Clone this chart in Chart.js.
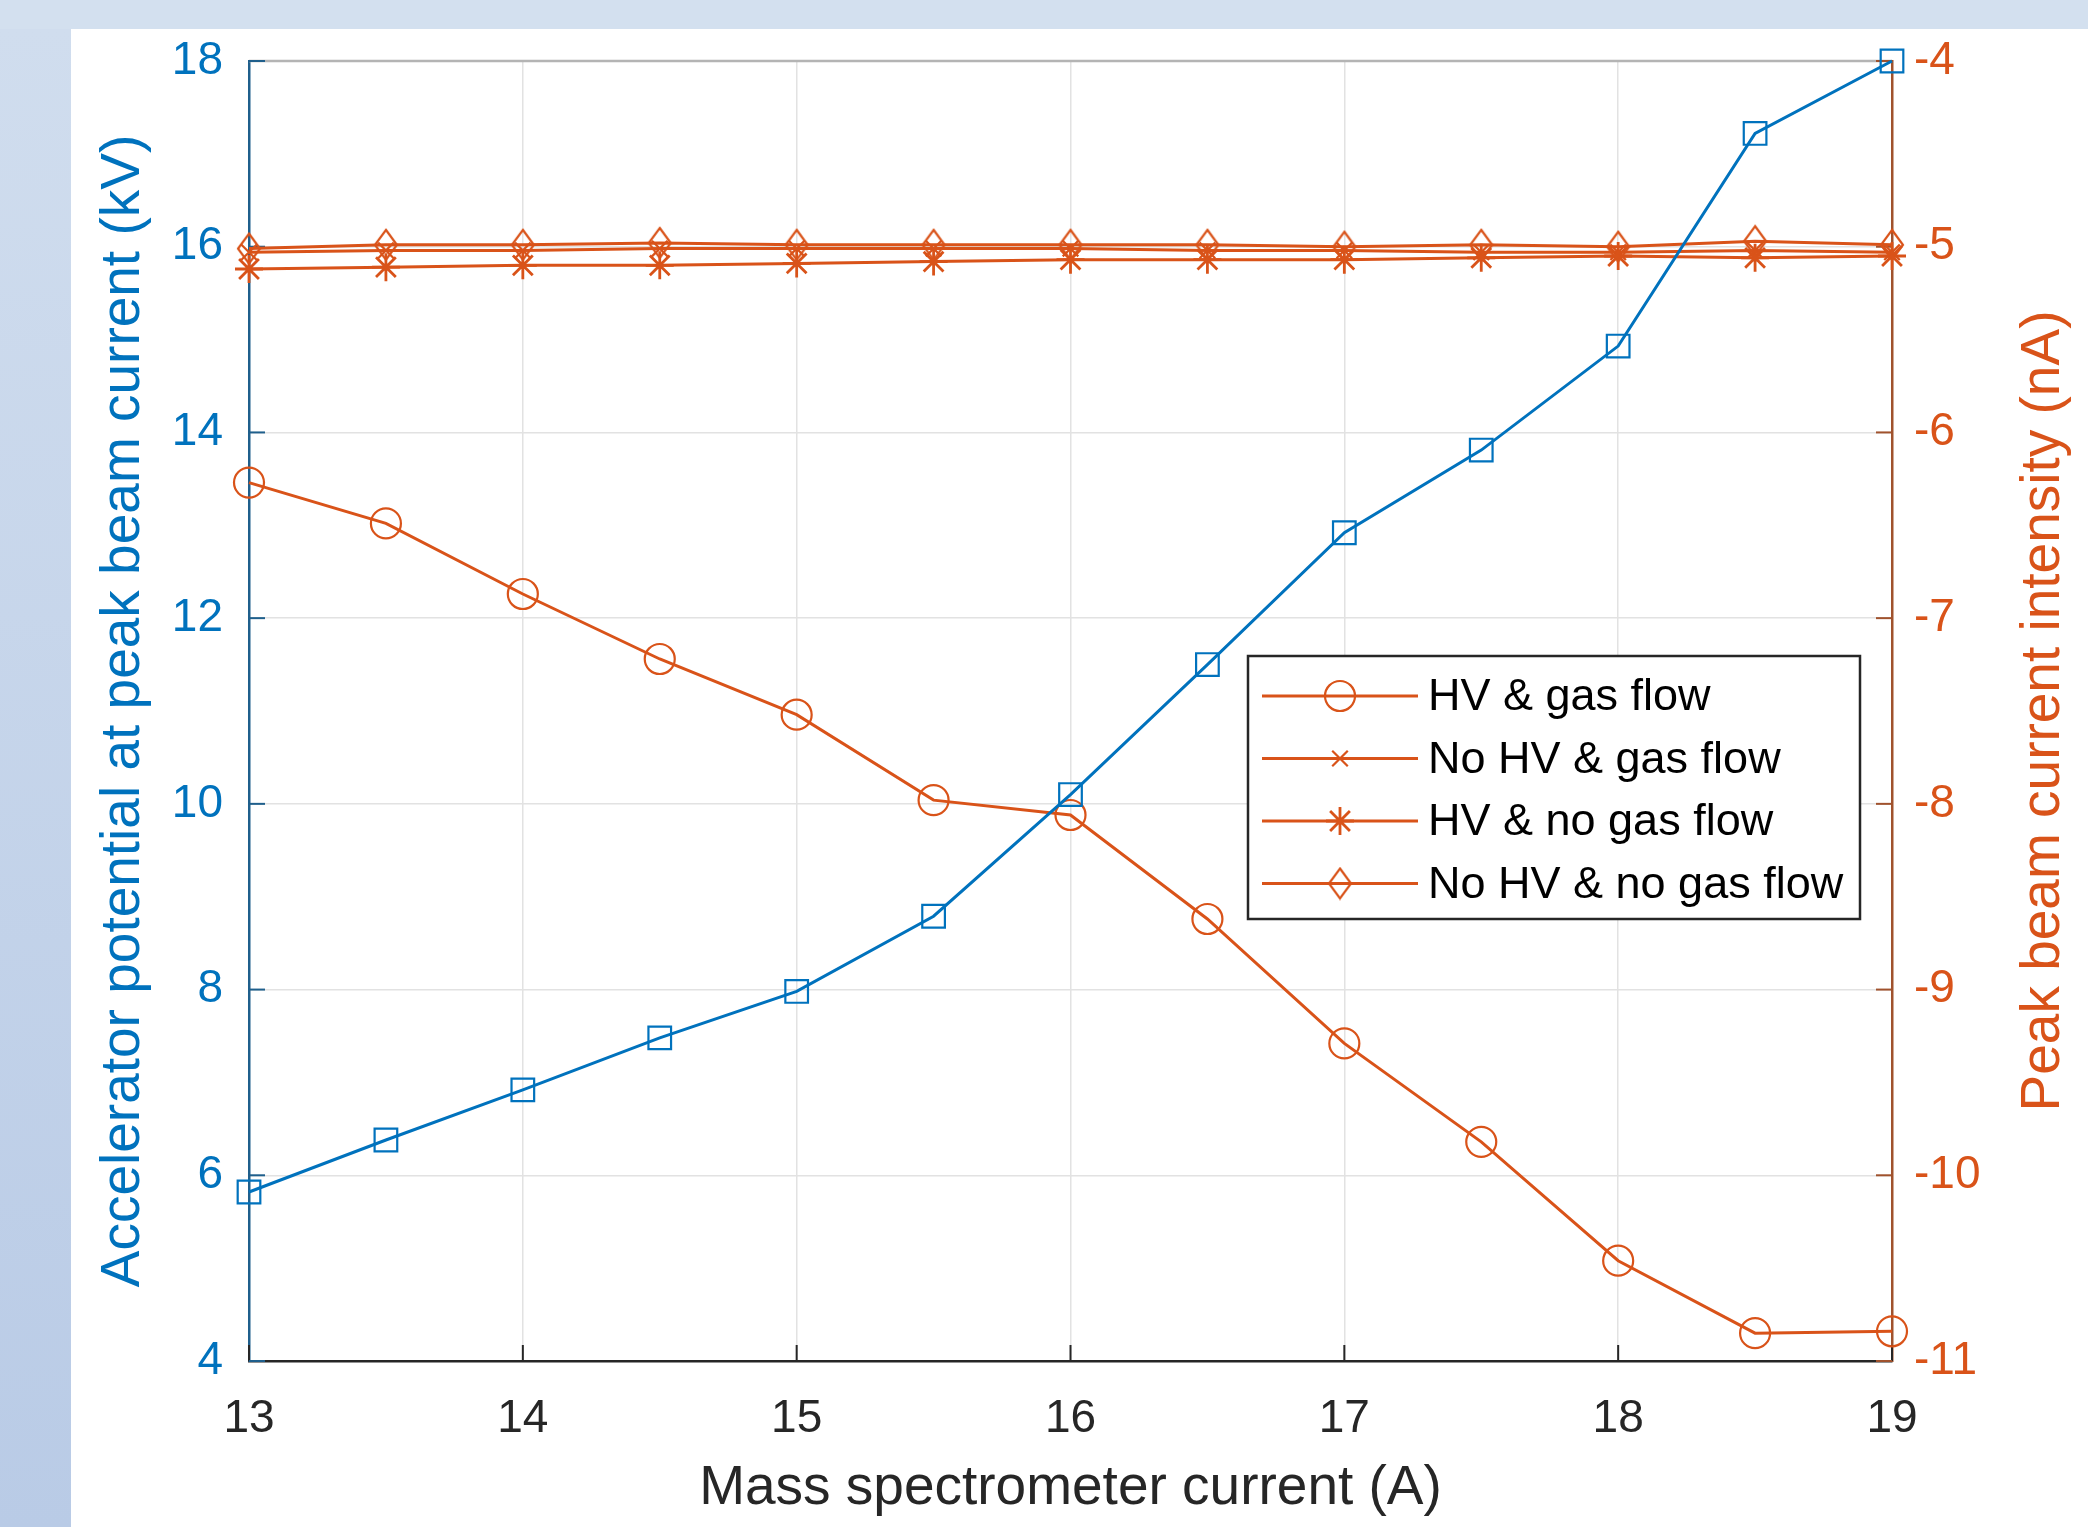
<!DOCTYPE html>
<html>
<head>
<meta charset="utf-8">
<script src="https://cdn.jsdelivr.net/npm/chart.js@4.4.1/dist/chart.umd.min.js"></script>
<style>
  html, body { margin: 0; padding: 0; }
  body { width: 2088px; height: 1527px; background: #d3e0ef; position: relative; overflow: hidden; }
  #side { position: absolute; left: 0; top: 29px; width: 71px; height: 1498px; background: linear-gradient(#d0ddee, #b9cbe6); }
  #wrap { position: absolute; left: 71px; top: 29px; width: 2017px; height: 1498px; background: #fff; }
</style>
</head>
<body>
<div id="side"></div>
<div id="wrap"><canvas id="myChart" width="2017" height="1498"></canvas></div>
<script>
// mass spectrometer current (A)
const current = [13, 13.5, 14, 14.5, 15, 15.5, 16, 16.5, 17, 17.5, 18, 18.5, 19];
// accelerator potential at peak beam current (kV), left axis
const accelKV = [5.82, 6.38, 6.92, 7.48, 7.98, 8.79, 10.1, 11.5, 12.92, 13.81, 14.93, 17.22, 18.0];
// peak beam current intensity (nA), right axis
const hvGas = [-6.27, -6.49, -6.87, -7.22, -7.52, -7.98, -8.06, -8.62, -9.29, -9.82, -10.46, -10.85, -10.84];
const noHvGas = [-5.03, -5.02, -5.02, -5.01, -5.01, -5.01, -5.01, -5.02, -5.02, -5.03, -5.03, -5.02, -5.03];
const hvNoGas = [-5.12, -5.11, -5.10, -5.10, -5.09, -5.08, -5.07, -5.07, -5.07, -5.06, -5.05, -5.06, -5.05];
const noHvNoGas = [-5.01, -4.99, -4.99, -4.98, -4.99, -4.99, -4.99, -4.99, -5.00, -4.99, -5.00, -4.97, -4.99];
const seriesNames = ['HV & gas flow', 'No HV & gas flow', 'HV & no gas flow', 'No HV & no gas flow'];

const blue = '#0072BD';
const orange = '#D95319';
const font = '"Liberation Sans", Arial, sans-serif';

function pts(ys) {
  return current.map((x, i) => ({ x: x, y: ys[i] }));
}

// matlab style diamond, taller than wide
function diamondMark(w, h, color) {
  const c = document.createElement('canvas');
  c.width = w + 4; c.height = h + 4;
  const g = c.getContext('2d');
  g.strokeStyle = color; g.lineWidth = 2.2;
  g.beginPath();
  g.moveTo(c.width / 2, 2);
  g.lineTo(c.width - 2, c.height / 2);
  g.lineTo(c.width / 2, c.height - 2);
  g.lineTo(2, c.height / 2);
  g.closePath();
  g.stroke();
  return c;
}

function orangeSet(label, ys, style, radius, bw) {
  return {
    label: label, data: pts(ys), yAxisID: 'y1', inLegend: true,
    borderColor: orange, backgroundColor: 'rgba(0,0,0,0)', borderWidth: 3,
    pointStyle: style, pointRadius: radius, pointBorderWidth: bw, pointBorderColor: orange,
    clip: false
  };
}

// keep tick label overflow from pushing the plot box down
function noVPad(scale) {
  scale.paddingTop = 0;
  scale.paddingBottom = 0;
}

const innerTicks = {
  id: 'innerTicks',
  beforeDatasetsDraw(chart) {
    const { ctx, chartArea: a, scales } = chart;
    const len = 16;
    const seg = (x1, y1, x2, y2) => { ctx.beginPath(); ctx.moveTo(x1, y1); ctx.lineTo(x2, y2); ctx.stroke(); };
    ctx.save();
    ctx.strokeStyle = '#b4b4b4'; ctx.lineWidth = 2.5;
    seg(a.left, a.top, a.right, a.top);
    ctx.lineWidth = 2;
    ctx.strokeStyle = '#262626';
    scales.x.ticks.forEach(t => { const p = scales.x.getPixelForValue(t.value); seg(p, a.bottom, p, a.bottom - len); });
    ctx.strokeStyle = '#1f5f8c';
    scales.y.ticks.forEach(t => { const p = scales.y.getPixelForValue(t.value); seg(a.left, p, a.left + len, p); });
    ctx.strokeStyle = '#a0522d';
    scales.y1.ticks.forEach(t => { const p = scales.y1.getPixelForValue(t.value); seg(a.right, p, a.right - len, p); });
    ctx.restore();
  }
};

const rightTitle = {
  id: 'rightTitle',
  afterDraw(chart) {
    const { ctx, chartArea: a } = chart;
    ctx.save();
    ctx.translate(chart.scales.y1.right - 44, (a.top + a.bottom) / 2);
    ctx.rotate(-Math.PI / 2);
    ctx.font = '55px ' + font;
    ctx.fillStyle = orange;
    ctx.textAlign = 'center';
    ctx.textBaseline = 'middle';
    ctx.fillText('Peak beam current intensity (nA)', 0, 0);
    ctx.restore();
  }
};

const boxLegend = {
  id: 'boxLegend',
  afterDraw(chart) {
    const { ctx, chartArea: a } = chart;
    const x0 = a.left + 999, y0 = a.top + 595, w = 612, h = 263;
    ctx.save();
    ctx.fillStyle = '#fff';
    ctx.fillRect(x0, y0, w, h);
    ctx.strokeStyle = '#262626'; ctx.lineWidth = 2.5;
    ctx.strokeRect(x0, y0, w, h);
    chart.data.datasets.filter(d => d.inLegend).forEach((d, i) => {
      const cy = y0 + 40 + i * 62.5;
      ctx.strokeStyle = d.borderColor; ctx.lineWidth = d.borderWidth;
      ctx.beginPath(); ctx.moveTo(x0 + 14, cy); ctx.lineTo(x0 + 170, cy); ctx.stroke();
      ctx.fillStyle = 'rgba(0,0,0,0)';
      ctx.lineWidth = d.pointBorderWidth;
      Chart.helpers.drawPoint(ctx, { pointStyle: d.pointStyle, radius: d.pointRadius, borderWidth: d.pointBorderWidth, rotation: 0 }, x0 + 92, cy);
      ctx.fillStyle = '#000';
      ctx.font = '45px ' + font;
      ctx.textAlign = 'left'; ctx.textBaseline = 'middle';
      ctx.fillText(d.label, x0 + 180, cy + 2);
    });
    ctx.restore();
  }
};

const ctx = document.getElementById('myChart').getContext('2d');
const myChart = new Chart(ctx, {
  type: 'line',
  data: {
    datasets: [
      {
        label: 'Accelerator potential', data: pts(accelKV), yAxisID: 'y', inLegend: false,
        borderColor: blue, backgroundColor: 'rgba(0,0,0,0)', borderWidth: 3,
        pointStyle: 'rect', pointRadius: 16, pointBorderWidth: 2.2, pointBorderColor: blue,
        clip: false
      },
      orangeSet(seriesNames[0], hvGas, 'circle', 15, 2.2),
      orangeSet(seriesNames[1], noHvGas, 'crossRot', 11, 2.2),
      orangeSet(seriesNames[2], hvNoGas, 'star', 14, 2.8),
      orangeSet(seriesNames[3], noHvNoGas, diamondMark(22, 30, orange), 15, 2.2)
    ]
  },
  options: {
    responsive: false,
    animation: false,
    devicePixelRatio: 1,
    layout: { padding: { top: 32, left: 0, right: 0, bottom: 0 } },
    plugins: { legend: { display: false }, tooltip: { enabled: false } },
    scales: {
      x: {
        type: 'linear', min: 13, max: 19,
        afterFit(scale) { scale.height = 166; },
        ticks: { stepSize: 1, color: '#262626', font: { size: 46, family: font }, padding: 31 },
        grid: { color: '#e2e2e2', lineWidth: 1.5, drawTicks: false },
        border: { color: '#262626', width: 2.5 },
        title: { display: true, text: 'Mass spectrometer current (A)', color: '#262626', font: { size: 55, family: font }, padding: { top: 0, bottom: 5 } }
      },
      y: {
        position: 'left', min: 4, max: 18,
        afterFit(scale) { scale.width = 178; noVPad(scale); },
        ticks: { stepSize: 2, color: blue, font: { size: 46, family: font }, padding: 26 },
        grid: { color: '#e2e2e2', lineWidth: 1.5, drawTicks: false },
        border: { color: '#1f5f8c', width: 2.5 },
        title: { display: true, text: 'Accelerator potential at peak beam current (kV)', color: blue, font: { size: 55, family: font }, padding: { top: 20, bottom: 0 } }
      },
      y1: {
        position: 'right', min: -11, max: -4,
        afterFit(scale) { scale.width = 196; noVPad(scale); },
        ticks: { stepSize: 1, color: orange, font: { size: 46, family: font }, padding: 22 },
        grid: { drawOnChartArea: false, drawTicks: false },
        border: { color: '#a0522d', width: 2.5 }
      }
    }
  },
  plugins: [innerTicks, rightTitle, boxLegend]
});
</script>
</body>
</html>
